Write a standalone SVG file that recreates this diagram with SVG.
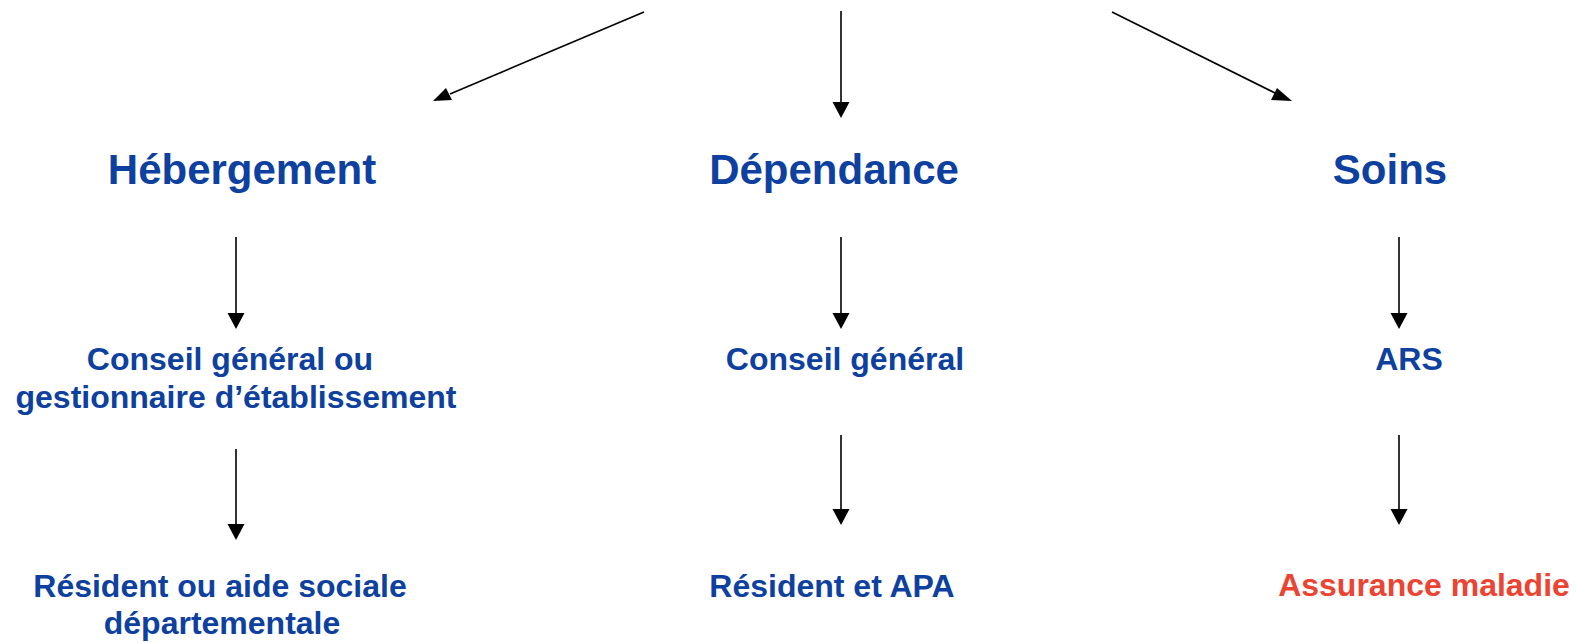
<svg xmlns="http://www.w3.org/2000/svg" width="1577" height="642" viewBox="0 0 1577 642">
<style>
text{font-family:"Liberation Sans",Arial,sans-serif;font-weight:bold;text-anchor:middle}
.h{font-size:42px;fill:#0E419F}
.b{font-size:32px;fill:#0E419F}
.r{font-size:32px;fill:#EC4433}
.c line{stroke:#000;stroke-width:1.6}
.c path{fill:#000}
</style>
<rect width="1577" height="642" fill="#fff"/>
<g class="c" id="connectors">
<line x1="644" y1="12" x2="450" y2="94"/>
<path d="M433,101 L446,88 L452,100 z"/>
<line x1="1112" y1="12" x2="1275" y2="93"/>
<path d="M1292,101 L1271,100 L1277,88 z"/>
<line x1="841" y1="11" x2="841" y2="102"/>
<path d="M832.5,102 L849.5,102 L841,118 z"/>
<line x1="236" y1="237" x2="236" y2="313"/>
<path d="M227.5,313 L244.5,313 L236,329 z"/>
<line x1="236" y1="449" x2="236" y2="524"/>
<path d="M227.5,524 L244.5,524 L236,540 z"/>
<line x1="841" y1="237" x2="841" y2="313"/>
<path d="M832.5,313 L849.5,313 L841,329 z"/>
<line x1="841" y1="435" x2="841" y2="509"/>
<path d="M832.5,509 L849.5,509 L841,525 z"/>
<line x1="1399" y1="237" x2="1399" y2="313"/>
<path d="M1390.5,313 L1407.5,313 L1399,329 z"/>
<line x1="1399" y1="435" x2="1399" y2="509"/>
<path d="M1390.5,509 L1407.5,509 L1399,525 z"/>
</g>
<g id="hebergement"><text class="h" x="242" y="184">Hébergement</text></g>
<g id="dependance"><text class="h" x="834" y="184">Dépendance</text></g>
<g id="soins"><text class="h" x="1390" y="184">Soins</text></g>
<g id="conseil-gestionnaire"><text class="b" x="230" y="370">Conseil général ou</text><text class="b" x="236" y="408">gestionnaire d’établissement</text></g>
<g id="conseil-general"><text class="b" x="845" y="370">Conseil général</text></g>
<g id="ars"><text class="b" x="1409" y="370">ARS</text></g>
<g id="resident-aide"><text class="b" x="220" y="597">Résident ou aide sociale</text><text class="b" x="222" y="634">départementale</text></g>
<g id="resident-apa"><text class="b" x="832" y="597">Résident et APA</text></g>
<g id="assurance"><text class="r" x="1424" y="596">Assurance maladie</text></g>
</svg>
